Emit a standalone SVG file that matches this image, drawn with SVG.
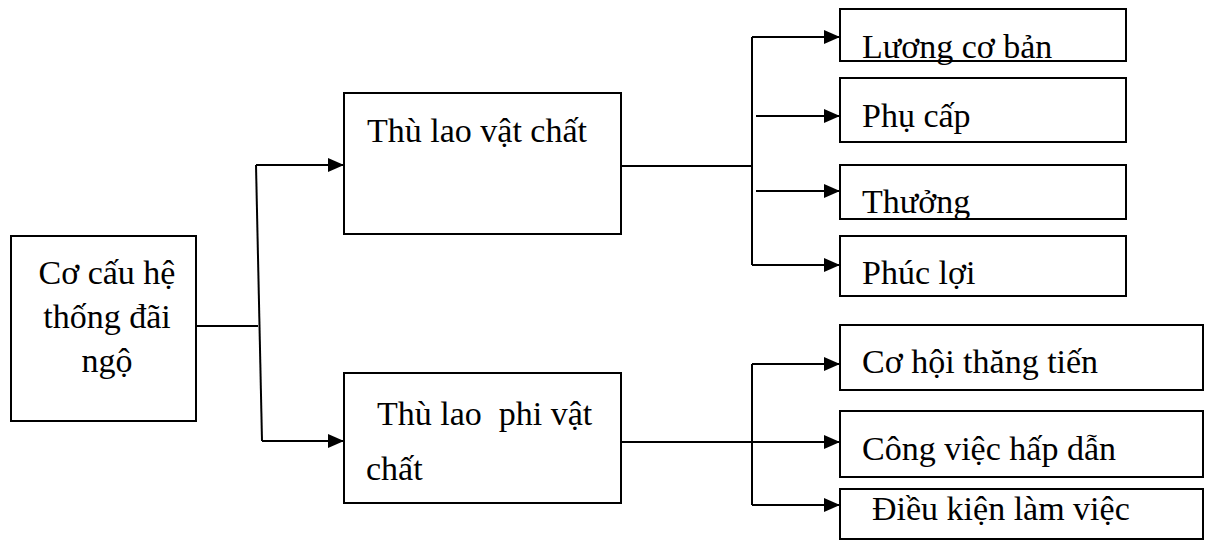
<svg xmlns="http://www.w3.org/2000/svg" width="1208" height="540" viewBox="0 0 1208 540">
  <style>
    .box { fill: #ffffff; stroke: #000000; stroke-width: 2; }
    .lbl { font-family: "Liberation Serif", "Times New Roman", serif; font-size: 34px; fill: #000000; }
    .ctr { text-anchor: middle; }
    .wire { fill: none; stroke: #000000; stroke-width: 2; }
  </style>
  <defs>
    <marker id="arrow" markerWidth="16" markerHeight="14" refX="16" refY="7" orient="auto" markerUnits="userSpaceOnUse">
      <path d="M0,0 L16,7 L0,14 Z" fill="#000000"/>
    </marker>
  </defs>
  <rect width="1208" height="540" fill="#ffffff"/>

  <!-- connectors -->
  <g id="connectors">
    <!-- root to the two main groups -->
    <path class="wire" d="M196,326 L258,326"/>
    <path class="wire" d="M256,165 L262,441"/>
    <path class="wire" d="M256,165 L344,165" marker-end="url(#arrow)"/>
    <path class="wire" d="M262,441 L344,441" marker-end="url(#arrow)"/>

    <!-- material pay branches -->
    <path class="wire" d="M621,166 L752,166"/>
    <path class="wire" d="M752,37 L752,265"/>
    <path class="wire" d="M752,37 L840,37" marker-end="url(#arrow)"/>
    <path class="wire" d="M756,116 L840,116" marker-end="url(#arrow)"/>
    <path class="wire" d="M756,191 L840,191" marker-end="url(#arrow)"/>
    <path class="wire" d="M752,265 L840,265" marker-end="url(#arrow)"/>

    <!-- non-material pay branches -->
    <path class="wire" d="M752,364 L752,505"/>
    <path class="wire" d="M752,364 L840,364" marker-end="url(#arrow)"/>
    <path class="wire" d="M621,442 L840,442" marker-end="url(#arrow)"/>
    <path class="wire" d="M752,505 L840,505" marker-end="url(#arrow)"/>
  </g>

  <!-- root -->
  <g id="root">
    <rect class="box" x="11" y="236" width="185" height="185"/>
    <text class="lbl ctr" x="107" y="284">Cơ cấu hệ</text>
    <text class="lbl ctr" x="107" y="328">thống đãi</text>
    <text class="lbl ctr" x="107" y="372">ngộ</text>
  </g>

  <!-- main groups -->
  <g id="material">
    <rect class="box" x="344" y="93" width="277" height="141"/>
    <text class="lbl" x="367" y="142">Thù lao vật chất</text>
  </g>
  <g id="nonmaterial">
    <rect class="box" x="344" y="373" width="277" height="130"/>
    <text class="lbl" x="377" y="425" xml:space="preserve">Thù lao  phi vật</text>
    <text class="lbl" x="366" y="480">chất</text>
  </g>

  <!-- material components -->
  <g id="basic-salary">
    <rect class="box" x="840" y="9" width="286" height="52"/>
    <text class="lbl" x="862" y="58">Lương cơ bản</text>
  </g>
  <g id="allowance">
    <rect class="box" x="840" y="78" width="286" height="64"/>
    <text class="lbl" x="862" y="127">Phụ cấp</text>
  </g>
  <g id="bonus">
    <rect class="box" x="840" y="165" width="286" height="54"/>
    <text class="lbl" x="862" y="213">Thưởng</text>
  </g>
  <g id="welfare">
    <rect class="box" x="840" y="236" width="286" height="60"/>
    <text class="lbl" x="862" y="284">Phúc lợi</text>
  </g>

  <!-- non-material components -->
  <g id="promotion">
    <rect class="box" x="840" y="325" width="363" height="65"/>
    <text class="lbl" x="862" y="373">Cơ hội thăng tiến</text>
  </g>
  <g id="attractive-work">
    <rect class="box" x="840" y="411" width="363" height="66"/>
    <text class="lbl" x="862" y="460">Công việc hấp dẫn</text>
  </g>
  <g id="work-conditions">
    <rect class="box" x="840" y="489" width="363" height="50"/>
    <text class="lbl" x="872" y="520">Điều kiện làm việc</text>
  </g>
</svg>
